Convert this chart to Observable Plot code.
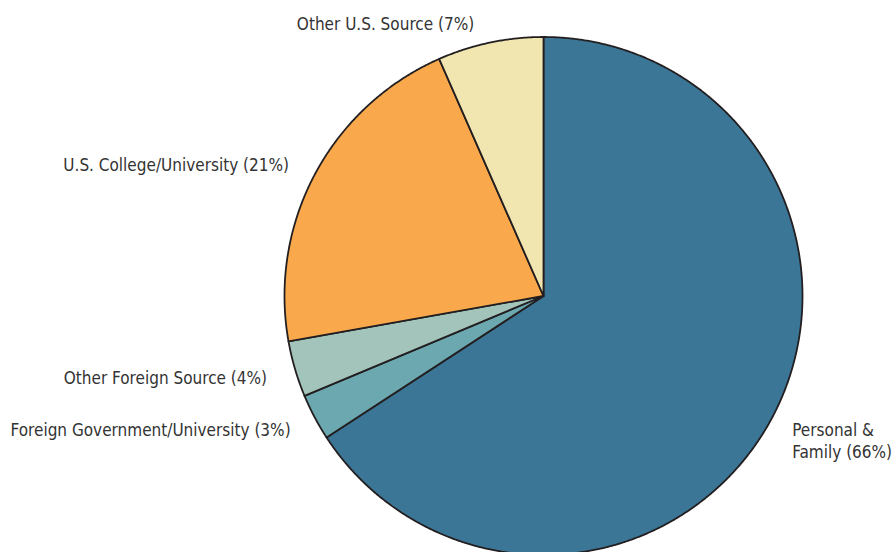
<!DOCTYPE html>
<html><head><meta charset="utf-8">
<script src="https://cdn.jsdelivr.net/npm/d3@7"></script>
<script src="https://cdn.jsdelivr.net/npm/@observablehq/plot@0.6"></script>
<style>
html,body{margin:0;padding:0;background:#fff;overflow:hidden;}
#chart svg{overflow:hidden;display:block;}
</style></head>
<body><div id="chart"></div>
<script>
// Data (clockwise from 12 o'clock)
const categories = ["Personal & Family", "Foreign Government/University", "Other Foreign Source", "U.S. College/University", "Other U.S. Source"];
const shares = [65.8, 2.9, 3.5, 21.2, 6.6];
const labels = ["Personal &\nFamily (66%)", "Foreign Government/University (3%)", "Other Foreign Source (4%)", "U.S. College/University (21%)", "Other U.S. Source (7%)"];
const colors = ["#3c7697", "#6ba8b0", "#a2c4bb", "#f9a94c", "#f1e5b0"];

// label styling (offsets in px from the slice's mid-angle rim point)
const labelStyle = [
  {anchor: "start", dx: 21, dy: 21},
  {anchor: "end", dx: -24, dy: 12},
  {anchor: "end", dx: -28, dy: 8},
  {anchor: "end", dx: -26, dy: -10},
  {anchor: "end", dx: -16, dy: -20}
];

const pie = d3.pie().sort(null).value(d => d)(shares);
const poly = [];
pie.forEach((a, i) => {
  const cat = categories[i];
  poly.push({cat, x: 0, y: 0});
  const n = Math.max(4, Math.ceil((a.endAngle - a.startAngle) / 0.005));
  for (let k = 0; k <= n; k++) {
    const t = a.startAngle + (a.endAngle - a.startAngle) * k / n;
    poly.push({cat, x: Math.sin(t), y: Math.cos(t)});
  }
  poly.push({cat, x: 0, y: 0});
});
const labelData = pie.map((a, i) => {
  const m = (a.startAngle + a.endAngle) / 2;
  return {label: labels[i], x: Math.sin(m), y: Math.cos(m), ...labelStyle[i]};
});

const W = 895, H = 552, R = 259, cx = 543, cy = 295.5;
const plot = Plot.plot({
  width: W, height: H,
  marginLeft: cx - R, marginRight: W - (cx + R),
  marginTop: cy - R, marginBottom: 0,
  x: {domain: [-1, 1], axis: null},
  y: {domain: [-(H - cy) / R, 1], axis: null},
  color: {domain: categories, range: colors},
  style: {fontFamily: "'DejaVu Sans Condensed',sans-serif", background: "#fff"},
  marks: [
    Plot.line(poly, {x: "x", y: "y", z: "cat", fill: "cat", stroke: "#231f20", strokeWidth: 1.8, strokeLinejoin: "round", curve: "linear"}),
    ...labelData.map(d => Plot.text([d], {x: "x", y: "y", text: "label", textAnchor: d.anchor, dx: d.dx, dy: d.dy, fontSize: 17, fill: "#333", lineHeight: 1.3}))
  ]
});
document.getElementById("chart").appendChild(plot);
</script>
</body></html>
